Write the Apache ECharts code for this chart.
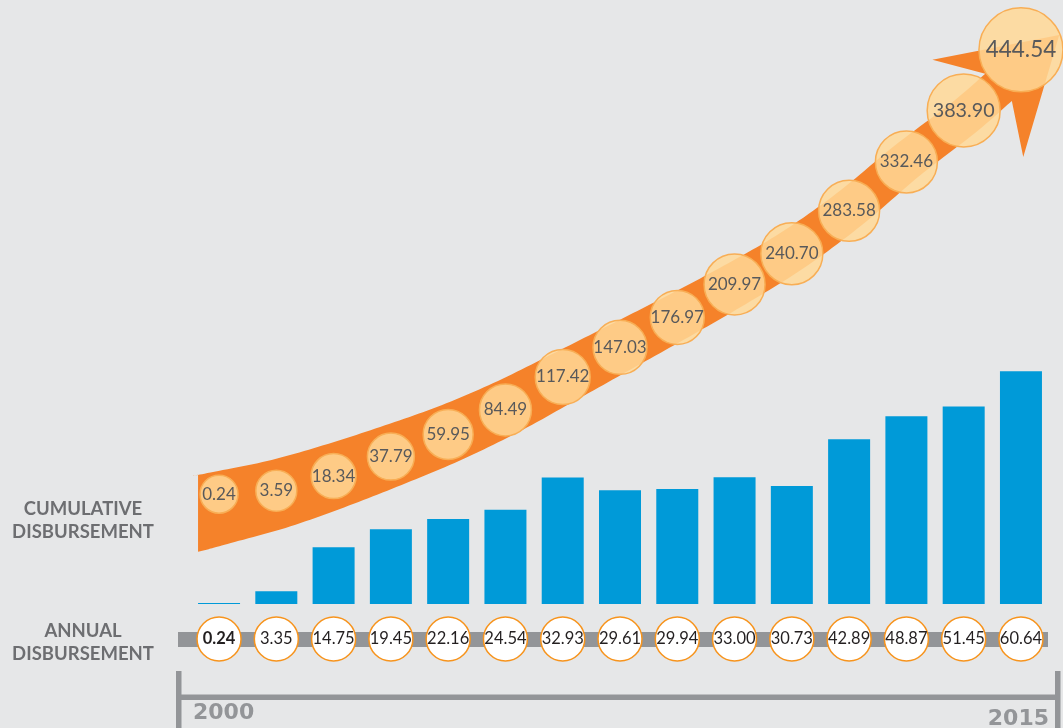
<!DOCTYPE html>
<html>
<head>
<meta charset="utf-8">
<script src="https://cdn.jsdelivr.net/npm/echarts@6/dist/echarts.min.js"></script>
<style>
html,body{margin:0;padding:0;background:#e6e7e8;}
#chart{width:1063px;height:728px;}
</style>
</head>
<body>
<div id="chart"></div>
<script>
// ---- data ----
var years = ['2000','2001','2002','2003','2004','2005','2006','2007','2008','2009','2010','2011','2012','2013','2014'];
var annual = [0.24, 3.35, 14.75, 19.45, 22.16, 24.54, 32.93, 29.61, 29.94, 33.00, 30.73, 42.89, 48.87, 51.45, 60.64];
var cumulative = [0.24, 3.59, 18.34, 37.79, 59.95, 84.49, 117.42, 147.03, 176.97, 209.97, 240.70, 283.58, 332.46, 383.90, 444.54];
var tickLabels = ['2000', '2015'];
var rowLabels = ['CUMULATIVE\nDISBURSEMENT', 'ANNUAL\nDISBURSEMENT'];
// ---- style ----
var bubbleDiameter = [38, 41, 45, 47, 50, 52, 55, 54, 54, 61, 62, 61, 62, 73, 84];

function cr(p0, p1, p2, p3, t) {
  var t2 = t * t, t3 = t2 * t, r = [];
  for (var k = 0; k < 2; k++) {
    r.push(0.5 * ((2 * p1[k]) + (-p0[k] + p2[k]) * t +
      (2 * p0[k] - 5 * p1[k] + 4 * p2[k] - p3[k]) * t2 +
      (-p0[k] + 3 * p1[k] - 3 * p2[k] + p3[k]) * t3));
  }
  return r;
}

function arrowItem(params, api) {
  var n = cumulative.length;
  if (params.dataIndex !== n - 1) return null;
  var c = [], i;
  for (i = 0; i < n; i++) c.push(api.coord([i, cumulative[i]]));
  var hx = c[n - 1][0] - c[n - 3][0], hy = c[n - 1][1] - c[n - 3][1];
  var hl = Math.sqrt(hx * hx + hy * hy);
  var u = [hx / hl, hy / hl];
  var nn = [-u[1], u[0]];
  var J = [c[n - 2][0] + 46 * u[0] + 2, c[n - 2][1] + 46 * u[1] + 9];
  var offs = [14, 6, 0];
  var raw = [];
  for (i = 0; i < n - 1; i++) raw.push([c[i][0], c[i][1] + (offs[i] || 0)]);
  raw.push(J);
  var knots = raw.map(function (p, j) {
    if (j === 0 || j === raw.length - 1) return p;
    return [p[0], 0.25 * raw[j - 1][1] + 0.5 * p[1] + 0.25 * raw[j + 1][1]];
  });
  var d0 = [knots[1][0] - knots[0][0], knots[1][1] - knots[0][1]];
  var k = 21 / d0[0];
  var S = [knots[0][0] - d0[0] * k, knots[0][1] - d0[1] * k];
  knots.unshift(S);
  var pts = [], N = 12;
  for (i = 0; i < knots.length - 1; i++) {
    var p0 = knots[Math.max(0, i - 1)], p1 = knots[i], p2 = knots[i + 1], p3 = knots[Math.min(knots.length - 1, i + 2)];
    for (var s = 0; s < N; s++) pts.push(cr(p0, p1, p2, p3, s / N));
  }
  pts.push(J);
  var upper = [], lower = [];
  var x0 = S[0], x1 = J[0];
  for (i = 0; i < pts.length; i++) {
    var t = Math.min(1, Math.max(0, (pts[i][0] - x0) / (x1 - x0)));
    var hw = 19 + 18.5 * Math.pow(1 - t, 1.6);
    var tx, ty, l;
    if (i === pts.length - 1) { tx = u[0]; ty = u[1]; }
    else if (i === 0) {
      tx = pts[1][0] - pts[0][0]; ty = pts[1][1] - pts[0][1];
      l = Math.sqrt(tx * tx + ty * ty); tx /= l; ty /= l;
      // vertical cut at the start, keeping perpendicular width
      upper.push([pts[0][0], pts[0][1] - hw / tx]);
      lower.push([pts[0][0], pts[0][1] + hw / tx]);
      continue;
    }
    else {
      tx = pts[i + 1][0] - pts[i - 1][0]; ty = pts[i + 1][1] - pts[i - 1][1];
      l = Math.sqrt(tx * tx + ty * ty); tx /= l; ty /= l;
    }
    upper.push([pts[i][0] + hw * ty, pts[i][1] - hw * tx]);
    lower.push([pts[i][0] - hw * ty, pts[i][1] + hw * tx]);
  }
  var head = [
    [J[0] - 28 * u[0] - 66 * nn[0], J[1] - 28 * u[1] - 66 * nn[1]],
    [J[0] + 80 * u[0] + 5 * nn[0], J[1] + 80 * u[1] + 5 * nn[1]],
    [J[0] - 31 * u[0] + 67 * nn[0], J[1] - 31 * u[1] + 67 * nn[1]]
  ];
  var poly = upper.concat(head).concat(lower.reverse());
  return { type: 'polygon', shape: { points: poly }, style: { fill: '#f5822a' } };
}

var chart = echarts.init(document.getElementById('chart'), null, { renderer: 'canvas' });
var FONT = 'Lato, "Open Sans", sans-serif';
var gridL = 190.4, gridR = 13.4;
var hiddenCat = { type: 'category', data: years, show: false, boundaryGap: true };

var option = {
  backgroundColor: '#e6e7e8',
  animation: false,
  grid: [
    { left: gridL, right: gridR, top: 220, height: 384 },
    { left: gridL, right: gridR, top: 14.4, height: 480 },
    { left: gridL, right: gridR, top: 617, height: 44 }
  ],
  xAxis: [
    Object.assign({ gridIndex: 0 }, hiddenCat),
    Object.assign({ gridIndex: 1 }, hiddenCat),
    Object.assign({ gridIndex: 2 }, hiddenCat)
  ],
  yAxis: [
    { gridIndex: 0, type: 'value', min: 0, max: 100, show: false },
    { gridIndex: 1, type: 'value', min: 0, max: 480, show: false },
    { gridIndex: 2, type: 'category', data: ['Annual'], show: false }
  ],
  graphic: [
    { type: 'rect', z: 0, shape: { x: 178, y: 632, width: 870, height: 15 }, style: { fill: '#939598' } },
    { type: 'rect', z: 0, shape: { x: 176, y: 671, width: 5.5, height: 57 }, style: { fill: '#939598' } },
    { type: 'rect', z: 0, shape: { x: 176, y: 694.5, width: 884, height: 5.5 }, style: { fill: '#939598' } },
    { type: 'rect', z: 0, shape: { x: 1055, y: 671, width: 5.5, height: 57 }, style: { fill: '#939598' } },
    { type: 'text', z: 0, style: { text: tickLabels[0], x: 193, y: 713, textAlign: 'left', textVerticalAlign: 'middle', fill: '#939598', font: 'bold 22px "DejaVu Sans", sans-serif' } },
    { type: 'text', z: 0, style: { text: tickLabels[1], x: 1049, y: 719, textAlign: 'right', textVerticalAlign: 'middle', fill: '#939598', font: 'bold 22px "DejaVu Sans", sans-serif' } },
    { type: 'text', z: 0, style: { text: rowLabels[0], x: 83, y: 521, textAlign: 'center', textVerticalAlign: 'middle', lineHeight: 23, fill: '#6d6e71', font: 'bold 18.5px ' + FONT } },
    { type: 'text', z: 0, style: { text: rowLabels[1], x: 83, y: 643, textAlign: 'center', textVerticalAlign: 'middle', lineHeight: 23, fill: '#6d6e71', font: 'bold 18.5px ' + FONT } }
  ],
  series: [
    {
      type: 'bar', xAxisIndex: 0, yAxisIndex: 0, data: annual, barWidth: 42,
      itemStyle: { color: '#009ad8' }, silent: true, z: 2
    },
    {
      type: 'custom', xAxisIndex: 1, yAxisIndex: 1, coordinateSystem: 'cartesian2d',
      data: cumulative.map(function (v, i) { return [i, v]; }),
      renderItem: arrowItem, silent: true, z: 1, clip: false
    },
    {
      type: 'scatter', xAxisIndex: 1, yAxisIndex: 1, z: 3, silent: true,
      data: cumulative.map(function (v, i) {
        var d = bubbleDiameter[i];
        var fs = d <= 62 ? 17 : 17 + (d - 62) * 0.25;
        return { value: [i, v], symbolSize: d, label: { fontSize: fs } };
      }),
      itemStyle: { color: 'rgba(255,216,150,0.85)', borderColor: '#f8ae55', borderWidth: 1.5, opacity: 1 },
      label: {
        show: true, position: 'inside', color: '#58595b', fontFamily: FONT,
        formatter: function (p) { return p.value[1].toFixed(2); }
      }
    },
    {
      type: 'scatter', xAxisIndex: 2, yAxisIndex: 2, z: 3, silent: true, symbolSize: 44,
      data: annual.map(function (v, i) {
        return { value: [i, 0, v], label: { fontWeight: i === 0 ? 'bold' : 'normal' } };
      }),
      itemStyle: { color: '#ffffff', borderColor: '#f7941d', borderWidth: 1.5, opacity: 1 },
      label: {
        show: true, position: 'inside', color: '#231f20', fontSize: 16.5, fontFamily: FONT,
        formatter: function (p) { return p.value[2].toFixed(2); }
      }
    }
  ]
};
chart.setOption(option);
</script>
</body>
</html>
